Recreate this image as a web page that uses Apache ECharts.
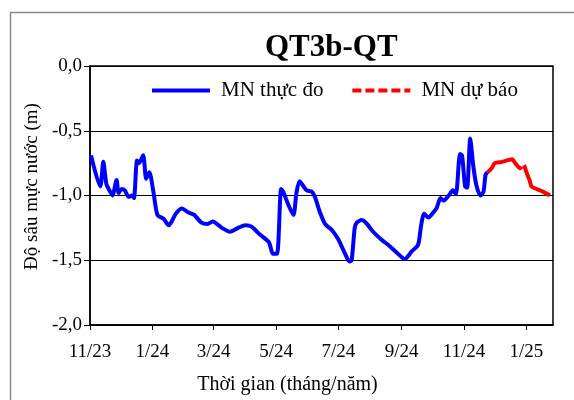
<!DOCTYPE html>
<html><head><meta charset="utf-8">
<script src="https://cdn.jsdelivr.net/npm/echarts@6/dist/echarts.min.js"></script>
<style>html,body{margin:0;padding:0;background:#fff}#c{width:574px;height:400px}</style>
</head><body><div id="c"></div>
<script>
// ---- data ----
const observedDates = ['2023-11-02','2023-11-11','2023-11-14','2023-11-17','2023-11-20','2023-11-23','2023-11-27','2023-11-29','2023-12-02','2023-12-05','2023-12-09','2023-12-12','2023-12-14','2023-12-17','2023-12-19','2023-12-23','2023-12-26','2023-12-29','2024-01-02','2024-01-06','2024-01-12','2024-01-17','2024-01-24','2024-01-30','2024-02-05','2024-02-11','2024-02-18','2024-02-24','2024-02-29','2024-03-09','2024-03-17','2024-03-25','2024-04-01','2024-04-07','2024-04-15','2024-04-24','2024-04-28','2024-05-02','2024-05-06','2024-05-08','2024-05-13','2024-05-18','2024-05-21','2024-05-24','2024-05-28','2024-05-31','2024-06-05','2024-06-08','2024-06-13','2024-06-18','2024-06-25','2024-07-01','2024-07-07','2024-07-12','2024-07-14','2024-07-17','2024-07-19','2024-07-24','2024-07-29','2024-08-04','2024-08-12','2024-08-20','2024-08-27','2024-09-04','2024-09-11','2024-09-17','2024-09-20','2024-09-23','2024-09-27','2024-10-02','2024-10-05','2024-10-09','2024-10-12','2024-10-17','2024-10-21','2024-10-24','2024-10-28','2024-10-30','2024-11-02','2024-11-04','2024-11-07','2024-11-10','2024-11-13','2024-11-17','2024-11-20','2024-11-22','2024-11-24'];
const observedValues = [-0.69,-0.93,-0.74,-0.91,-0.96,-1.00,-0.88,-0.98,-0.95,-0.96,-1.01,-1.00,-1.02,-0.73,-0.75,-0.69,-0.87,-0.82,-0.97,-1.15,-1.18,-1.23,-1.14,-1.10,-1.13,-1.15,-1.21,-1.22,-1.20,-1.25,-1.28,-1.25,-1.23,-1.24,-1.30,-1.36,-1.45,-1.45,-0.95,-0.97,-1.07,-1.15,-0.98,-0.89,-0.93,-0.96,-0.97,-1.01,-1.13,-1.22,-1.27,-1.34,-1.44,-1.51,-1.50,-1.25,-1.21,-1.19,-1.22,-1.28,-1.34,-1.39,-1.44,-1.49,-1.43,-1.38,-1.23,-1.14,-1.17,-1.13,-1.10,-1.02,-1.04,-1.00,-0.96,-0.99,-0.68,-0.69,-0.93,-0.94,-0.56,-0.77,-0.92,-1.00,-0.97,-0.84,-0.82];
const forecastDates = ['2024-11-24','2024-11-28','2024-12-01','2024-12-08','2024-12-18','2024-12-21','2024-12-26','2024-12-29','2025-01-01','2025-01-04','2025-01-06','2025-01-11','2025-01-17','2025-01-24'];
const forecastValues = [-0.82,-0.79,-0.75,-0.74,-0.72,-0.75,-0.79,-0.76,-0.82,-0.88,-0.93,-0.95,-0.97,-1.00];
const tickDates = ['2023-11-01','2024-01-01','2024-03-01','2024-05-01','2024-07-01','2024-09-01','2024-11-01','2025-01-01'];
const tickLabels = ['11/23','1/24','3/24','5/24','7/24','9/24','11/24','1/25'];
const xStart = '2023-11-01', xEnd = '2025-01-27';
const seriesNames = ['MN thực đo','MN dự báo'];
const titleText = 'QT3b-QT';
const xName = 'Thời gian (tháng/năm)';
const yName = 'Độ sâu mực nước (m)';

// dates -> whole days since the axis start
function day(s){const p=s.split('-').map(Number);const a=xStart.split('-').map(Number);
  return Math.round((Date.UTC(p[0],p[1]-1,p[2])-Date.UTC(a[0],a[1]-1,a[2]))/86400000);}
const tickDays = tickDates.map(day);
const FONT = "'Liberation Serif','Times New Roman',serif";

const chart = echarts.init(document.getElementById('c'), null, {renderer:'canvas'});
chart.setOption({
  animation:false,
  backgroundColor:'#fff',
  title:{text:titleText,left:260,top:27,textStyle:{fontFamily:FONT,fontSize:31,fontWeight:'bold',color:'#000'}},
  graphic:[{type:'rect',shape:{x:10.5,y:12.5,width:700,height:500},style:{fill:'none',stroke:'#8c8c8c',lineWidth:1.5},silent:true}],
  legend:{left:145,top:75,itemWidth:58,itemHeight:14,itemGap:27,
    itemStyle:{opacity:0},
    textStyle:{fontFamily:FONT,fontSize:21,color:'#000',padding:[0,0,0,6]},
    data:[{name:seriesNames[0],lineStyle:{width:4}},{name:seriesNames[1],lineStyle:{type:[9,4],width:4}}]},
  grid:{left:90,top:66,right:21,bottom:73,show:true,borderColor:'#000',borderWidth:1.5,backgroundColor:'transparent'},
  xAxis:{type:'value',min:0,max:day(xEnd),
    name:xName,nameLocation:'middle',nameGap:50,
    nameTextStyle:{fontFamily:FONT,fontSize:20,color:'#000',padding:[0,68,0,0]},
    axisLine:{show:true,onZero:false,lineStyle:{color:'#000',width:1.5}},
    axisTick:{show:true,length:5,lineStyle:{color:'#000'},customValues:tickDays},
    axisLabel:{customValues:tickDays,margin:18,fontFamily:FONT,fontSize:19,color:'#000',
      formatter:function(v){const i=tickDays.indexOf(Math.round(v));return i>=0?tickLabels[i]:'';}},
    splitLine:{show:false}},
  yAxis:{type:'value',min:-2,max:0,interval:0.5,
    name:yName,nameLocation:'middle',nameGap:48,
    nameTextStyle:{fontFamily:FONT,fontSize:19,color:'#000',padding:[0,0,0,18]},
    axisLine:{show:true,lineStyle:{color:'#000',width:1.5}},
    axisTick:{show:true,length:6,lineStyle:{color:'#000'}},
    axisLabel:{margin:8,fontFamily:FONT,fontSize:19,color:'#000',formatter:v=>v.toFixed(1).replace('.',',')},
    splitLine:{show:true,lineStyle:{color:'#000',width:1}}},
  series:[
    {name:seriesNames[0],type:'line',symbol:'none',smooth:0.25,
      data:observedDates.map((d,i)=>[day(d),observedValues[i]]),
      lineStyle:{color:'#0000ff',width:4},itemStyle:{color:'#0000ff'}},
    {name:seriesNames[1],type:'line',symbol:'none',smooth:0.25,
      data:forecastDates.map((d,i)=>[day(d),forecastValues[i]]),
      lineStyle:{color:'#ff0000',width:4,type:[44,4]},itemStyle:{color:'#ff0000'}}
  ]
});
</script></body></html>
